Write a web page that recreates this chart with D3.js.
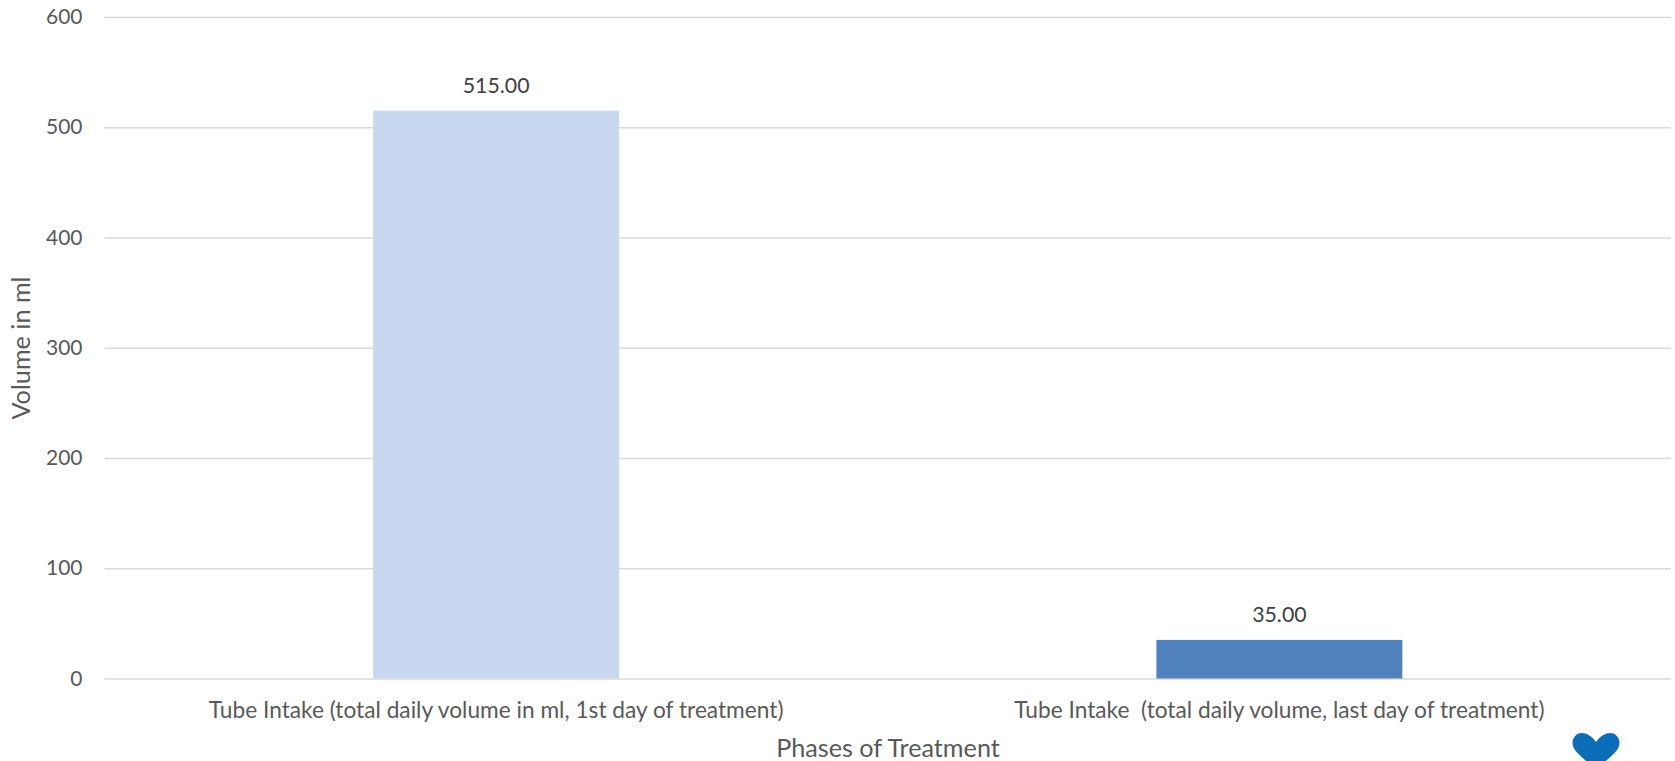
<!DOCTYPE html>
<html>
<head>
<meta charset="utf-8">
<script src="https://cdn.jsdelivr.net/npm/d3@7"></script>
<style>
body { margin: 0; background: #fff; overflow: hidden; }
text { font-family: Lato, sans-serif; }
</style>
</head>
<body>
<script>
var categories = ["Tube Intake (total daily volume in ml, 1st day of treatment)", "Tube Intake  (total daily volume, last day of treatment)"]
var values = [515, 35]
var valueLabels = ["515.00", "35.00"]
var barColors = ["#c7d8f0", "#4f81bd"]
var yTicks = [0, 100, 200, 300, 400, 500, 600]

var width = 1675
var height = 761
var margin = { top: 17, right: 4, bottom: 82.5, left: 104.5 }

var svg = d3.select("body").append("svg")
    .attr("width", width)
    .attr("height", height)

var x = d3.scaleBand()
    .domain(categories)
    .range([margin.left, width - margin.right])
    .paddingInner(0.686)
    .paddingOuter(0.343)

var y = d3.scaleLinear()
    .domain([0, 600])
    .range([height - margin.bottom, margin.top])

// gridlines + y labels
var yAxis = d3.axisLeft(y)
    .tickValues(yTicks)
    .tickSize(-(width - margin.left - margin.right))
    .tickPadding(22)

var yg = svg.append("g")
    .attr("transform", "translate(" + margin.left + ",0)")
    .call(yAxis)
yg.select(".domain").remove()
yg.selectAll("line").attr("stroke", "#d9d9d9").attr("stroke-width", 1.5)
yg.selectAll("text")
    .style("font-family", "Lato, sans-serif")
    .style("font-size", "21px")
    .attr("fill", "#595959")

// bars
svg.selectAll(".bar")
    .data(values)
    .enter().append("rect")
    .attr("class", "bar")
    .attr("x", function (d, i) { return x(categories[i]) })
    .attr("width", x.bandwidth())
    .attr("y", function (d) { return y(d) })
    .attr("height", function (d) { return y(0) - y(d) })
    .attr("fill", function (d, i) { return barColors[i] })

// value labels
svg.selectAll(".value")
    .data(values)
    .enter().append("text")
    .attr("class", "value")
    .attr("x", function (d, i) { return x(categories[i]) + x.bandwidth() / 2 })
    .attr("y", function (d) { return y(d) - 18 })
    .attr("text-anchor", "middle")
    .style("font-size", "21.3px")
    .attr("fill", "#404040")
    .text(function (d, i) { return valueLabels[i] })

// x axis
var xAxis = d3.axisBottom(x).tickSize(0).tickPadding(23)
var xg = svg.append("g")
    .attr("transform", "translate(0," + y(0) + ")")
    .call(xAxis)
xg.select(".domain").remove()
xg.selectAll("text")
    .style("font-family", "Lato, sans-serif")
    .style("font-size", "22.7px")
    .style("white-space", "pre")
    .attr("fill", "#595959")

// axis titles
svg.append("text")
    .attr("x", 888)
    .attr("y", 757)
    .attr("text-anchor", "middle")
    .style("font-size", "25.2px")
    .attr("fill", "#595959")
    .text("Phases of Treatment")

svg.append("text")
    .attr("transform", "translate(30," + 348 + ") rotate(-90)")
    .attr("text-anchor", "middle")
    .style("font-size", "25.2px")
    .attr("fill", "#595959")
    .text("Volume in ml")

// heart in the corner, cut off by the page edge
svg.append("path")
    .attr("transform", "translate(1596,742)")
    .attr("d", "M0,0 C-4,-6 -10,-9 -14,-9 C-20,-9 -23.5,-4 -23.5,1 C-23.5,8 -16,13 -10,19 L0,28 L10,19 C16,13 23.5,8 23.5,1 C23.5,-4 20,-9 14,-9 C10,-9 4,-6 0,0 Z")
    .attr("fill", "#0b6cb8")
</script>
</body>
</html>
